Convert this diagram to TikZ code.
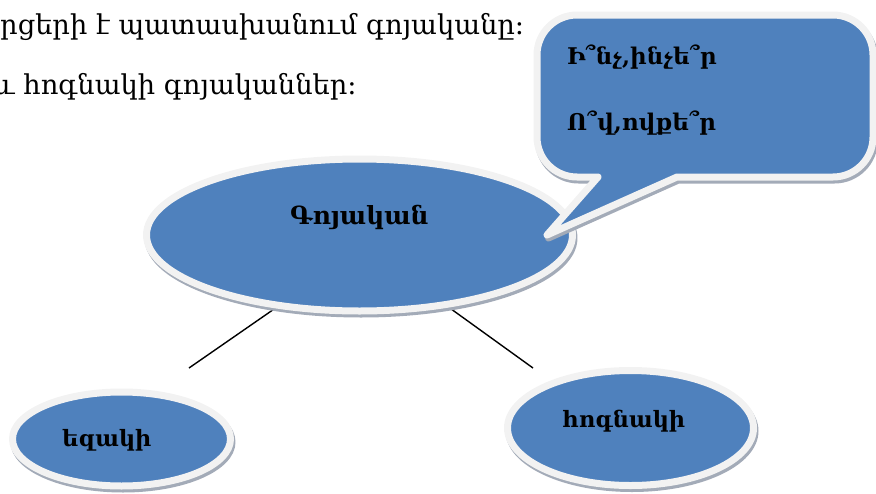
\documentclass[tikz,border=0pt]{standalone}
\usepackage{fontspec}
\setmainfont{DejaVu Serif}
\usetikzlibrary{shapes.geometric,backgrounds}
\definecolor{fillblue}{HTML}{4F81BD}
\definecolor{rim}{HTML}{F2F2F2}
\definecolor{shd}{HTML}{A3ABB8}
\begin{document}
\begin{tikzpicture}[x=1pt,y=-1pt,
  blob/.style={fill=fillblue, draw=rim, line width=7, line join=round,
    preaction={draw=shd, fill=shd, line width=7, line join=round, transform canvas={shift={(1.5,3)}}}},
  ell/.style={blob, ellipse, inner sep=0},
  plain/.style={font=\fontsize{27.3}{30}\selectfont, anchor=base west, inner sep=0},
  bold/.style={font=\bfseries\fontsize{23}{28}\selectfont, anchor=base west, inner sep=0},
  conn/.style={draw=black, line width=1.4}]
\useasboundingbox (0,0) rectangle (876,493);
% texts at top
\node[plain] (t1) at (0,34) {րցերի է պատասխանում գոյականը:};
\node[plain] (t2) at (-7,94) {և հոգնակի գոյականներ:};
% main ellipse
\node[ell, minimum width=426, minimum height=152] (main) at (359.5,235) {};
\node[bold, font=\bfseries\fontsize{25}{30}\selectfont] (mainT) at (290,224) {Գոյական};
% small ellipses
\node[ell, minimum width=218, minimum height=94] (sing) at (121.5,439) {};
\node[bold, font=\bfseries\fontsize{22.5}{28}\selectfont] (singT) at (62,446) {եզակի};
\node[ell, minimum width=246, minimum height=115] (plur) at (630.5,428) {};
\node[bold, font=\bfseries\fontsize{22.5}{28}\selectfont] (plurT) at (562,427) {հոգնակի};
% connectors
\coordinate (lend) at (189,368);
\coordinate (rend) at (533,368);
\begin{scope}[on background layer]
\draw[conn] (main.221) -- (lend);
\draw[conn] (main.321) -- (rend);
\end{scope}
% speech bubble
\path[blob] (677,177) -- (833,177) arc[start angle=90,end angle=0,radius=40]
  -- (873,55) arc[start angle=0,end angle=-90,radius=40]
  -- (577,15) arc[start angle=-90,end angle=-180,radius=40]
  -- (537,137) arc[start angle=180,end angle=90,radius=40]
  -- (598,177) -- (547,235) -- cycle;
\node[bold] (q1) at (567,64) {Ի՞նչ,ինչե՞ր};
\node[bold] (q2) at (567,130) {Ո՞վ,ովքե՞ր};
\end{tikzpicture}
\end{document}
